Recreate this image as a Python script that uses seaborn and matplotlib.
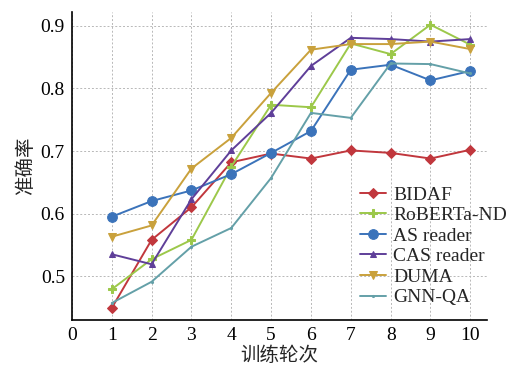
import matplotlib
matplotlib.use("Agg")
import matplotlib.pyplot as plt
import seaborn as sns
import pandas as pd

epochs = [1, 2, 3, 4, 5, 6, 7, 8, 9, 10]
bidaf = [0.449, 0.558, 0.610, 0.682, 0.696, 0.688, 0.701, 0.697, 0.688, 0.702]
roberta = [0.479, 0.527, 0.558, 0.675, 0.774, 0.770, 0.872, 0.855, 0.902, 0.870]
as_reader = [0.595, 0.620, 0.637, 0.663, 0.697, 0.732, 0.830, 0.838, 0.813, 0.828]
cas_reader = [0.535, 0.519, 0.623, 0.701, 0.761, 0.836, 0.881, 0.879, 0.875, 0.879]
duma = [0.563, 0.581, 0.672, 0.721, 0.793, 0.862, 0.871, 0.871, 0.875, 0.863]
gnn_qa = [0.457, 0.491, 0.547, 0.577, 0.657, 0.761, 0.753, 0.840, 0.839, 0.824]

series_names = ["BIDAF", "RoBERTa-ND", "AS reader", "CAS reader", "DUMA", "GNN-QA"]
series_vals = [bidaf, roberta, as_reader, cas_reader, duma, gnn_qa]
colors = ["#c1373d", "#9cc84a", "#3b73ba", "#5f3f99", "#c9a13c", "#64a0a8"]
markers = ["D", "P", "o", "^", "v", "."]
msizes = [5, 6, 7, 4, 6, 3]

xticks = [0, 1, 2, 3, 4, 5, 6, 7, 8, 9, 10]
yticks = [0.5, 0.6, 0.7, 0.8, 0.9]

rows = []
for n, v in zip(series_names, series_vals):
    for e, a in zip(epochs, v):
        rows.append({"epoch": e, "acc": a, "model": n})
df = pd.DataFrame(rows)

sns.set_style("white")
plt.rcParams["font.family"] = ["Liberation Serif", "Noto Sans CJK SC"]
plt.rcParams["axes.unicode_minus"] = False

fig = plt.figure(figsize=(5.10, 3.69), dpi=100)
ax = fig.add_axes([0.141, 0.133, 0.814, 0.834])

for n, c, m, ms in zip(series_names, colors, markers, msizes):
    sub = df[df["model"] == n]
    sns.lineplot(data=sub, x="epoch", y="acc", ax=ax, color=c, marker=m,
                 markersize=ms, markeredgecolor=c, linewidth=1.4, label=n)

ax.set_xlim(0, 10.42)
ax.set_ylim(0.43, 0.922)
ax.set_xticks(xticks)
ax.set_yticks(yticks)
ax.set_xticklabels([str(t) for t in xticks])
ax.set_yticklabels([f"{t:.1f}" for t in yticks])
ax.grid(True, linestyle=(0, (2, 2)), color="#b8b8b8", linewidth=0.7)
ax.set_axisbelow(True)
for s in ["top", "right"]:
    ax.spines[s].set_visible(False)
for s in ["left", "bottom"]:
    ax.spines[s].set_color("black")
    ax.spines[s].set_linewidth(1.2)
ax.tick_params(direction="in", length=3, labelsize=14, colors="black", pad=5)
ax.set_xlabel("训练轮次", fontsize=14, labelpad=2)
ax.set_ylabel("准确率", fontsize=14, labelpad=4)

leg = ax.legend(loc="lower right", bbox_to_anchor=(1.08, 0.0), frameon=False,
                fontsize=14, handlelength=1.35, handletextpad=0.35,
                labelspacing=0.15, borderpad=0.2)

fig.savefig("out.png", dpi=100)
